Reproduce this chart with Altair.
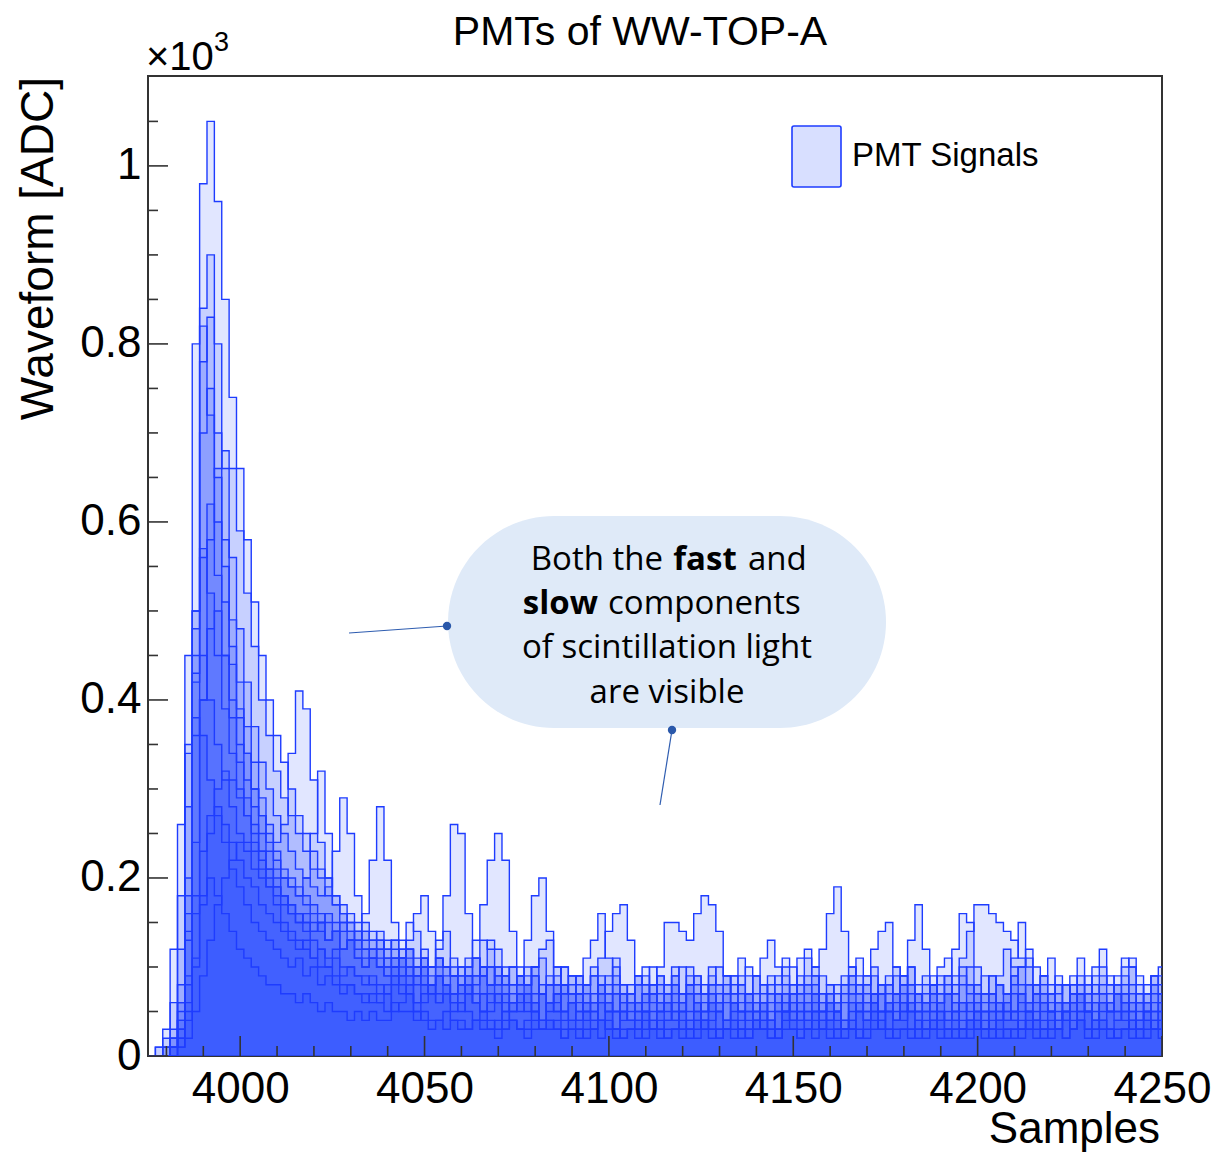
import altair as alt
import pandas as pd

# ---------------- data (values in units of 10^3 ADC, 2-sample bins from 3975) ----------------
X_START = 3975
BIN = 2

W1 = [0.00,0.00,0.01,0.02,0.06,0.18,0.50,0.98,1.05,0.96,
      0.85,0.74,0.66,0.58,0.51,0.45,0.40,0.36,0.33,0.30,
      0.27,0.25,0.23,0.21,0.20,0.18,0.17,0.16,0.15,0.14,
      0.13,0.14,0.12,0.13,0.11,0.12,0.10,0.11,0.10,0.13,
      0.18,0.26,0.25,0.16,0.11,0.09,0.10,0.08,0.09,0.10,
      0.08,0.10,0.09,0.07,0.08,0.10,0.08,0.07,0.09,0.08,
      0.06,0.08,0.07,0.09,0.07,0.06,0.08,0.09,0.07,0.05,
      0.07,0.08,0.06,0.09,0.07,0.05,0.08,0.06,0.07,0.09,
      0.06,0.07,0.05,0.08,0.06,0.07,0.09,0.06,0.05,0.07,
      0.08,0.06,0.07,0.05,0.08,0.09,0.11,0.09,0.06,0.07,
      0.05,0.07,0.08,0.06,0.07,0.05,0.08,0.06,0.07,0.05,
      0.06,0.08,0.07,0.05,0.07,0.06,0.05,0.08,0.10,0.11,
      0.08,0.06,0.07,0.05,0.06,0.08,0.07,0.05,0.06,0.07,
      0.05,0.07,0.06,0.08,0.06,0.07,0.09,0.10]

W2 = [0.00,0.00,0.00,0.01,0.04,0.14,0.42,0.84,0.90,0.80,
      0.66,0.56,0.48,0.42,0.37,0.33,0.30,0.27,0.25,0.23,
      0.21,0.20,0.19,0.18,0.19,0.23,0.29,0.25,0.18,0.15,
      0.14,0.13,0.12,0.13,0.11,0.12,0.10,0.11,0.10,0.11,
      0.10,0.09,0.10,0.11,0.09,0.10,0.08,0.09,0.10,0.08,
      0.09,0.08,0.10,0.07,0.09,0.08,0.10,0.09,0.07,0.08,
      0.09,0.11,0.14,0.16,0.17,0.13,0.09,0.08,0.07,0.09,
      0.08,0.10,0.07,0.08,0.09,0.07,0.10,0.08,0.09,0.07,
      0.08,0.06,0.09,0.08,0.07,0.09,0.11,0.10,0.07,0.08,
      0.09,0.07,0.06,0.08,0.09,0.07,0.08,0.06,0.09,0.08,
      0.07,0.09,0.08,0.10,0.07,0.06,0.08,0.09,0.07,0.08,
      0.10,0.08,0.06,0.07,0.09,0.08,0.07,0.09,0.08,0.06,
      0.08,0.09,0.07,0.08,0.06,0.09,0.08,0.07,0.09,0.10,
      0.07,0.08,0.09,0.07,0.06,0.08,0.09,0.07]

W3 = [0.00,0.00,0.00,0.01,0.05,0.16,0.45,0.78,0.83,0.70,
      0.58,0.49,0.42,0.37,0.33,0.29,0.26,0.24,0.26,0.34,
      0.41,0.39,0.31,0.24,0.20,0.17,0.16,0.15,0.14,0.13,
      0.12,0.13,0.11,0.12,0.10,0.11,0.09,0.10,0.08,0.09,
      0.08,0.09,0.08,0.10,0.13,0.17,0.22,0.25,0.22,0.14,
      0.10,0.08,0.09,0.07,0.08,0.06,0.08,0.07,0.05,0.07,
      0.06,0.08,0.07,0.05,0.06,0.08,0.06,0.07,0.05,0.06,
      0.07,0.05,0.06,0.08,0.06,0.05,0.07,0.06,0.04,0.06,
      0.07,0.05,0.06,0.04,0.07,0.06,0.05,0.07,0.06,0.04,
      0.06,0.05,0.07,0.06,0.04,0.06,0.05,0.07,0.06,0.05,
      0.06,0.04,0.05,0.07,0.05,0.06,0.08,0.10,0.11,0.07,
      0.05,0.06,0.04,0.06,0.07,0.05,0.06,0.04,0.06,0.05,
      0.07,0.05,0.06,0.04,0.06,0.07,0.05,0.06,0.04,0.06,
      0.05,0.07,0.05,0.06,0.04,0.06,0.05,0.06]

W4 = [0.00,0.00,0.01,0.03,0.12,0.45,0.80,0.82,0.72,0.60,
      0.51,0.44,0.38,0.34,0.30,0.27,0.25,0.23,0.21,0.20,
      0.19,0.18,0.17,0.16,0.15,0.15,0.14,0.14,0.13,0.16,
      0.22,0.28,0.22,0.15,0.13,0.12,0.11,0.12,0.10,0.11,
      0.10,0.11,0.09,0.10,0.11,0.09,0.10,0.09,0.08,0.10,
      0.09,0.08,0.10,0.11,0.08,0.09,0.10,0.07,0.09,0.08,
      0.10,0.08,0.09,0.11,0.08,0.07,0.09,0.10,0.08,0.09,
      0.07,0.09,0.10,0.08,0.09,0.07,0.08,0.10,0.09,0.07,
      0.08,0.10,0.09,0.07,0.09,0.08,0.10,0.08,0.07,0.09,
      0.10,0.12,0.16,0.19,0.14,0.10,0.08,0.09,0.07,0.08,
      0.09,0.07,0.08,0.10,0.08,0.09,0.07,0.08,0.09,0.07,
      0.08,0.10,0.08,0.07,0.09,0.08,0.07,0.09,0.10,0.12,
      0.10,0.08,0.07,0.09,0.08,0.07,0.08,0.09,0.07,0.08,
      0.09,0.07,0.08,0.10,0.09,0.07,0.08,0.09]

W5 = [0.00,0.00,0.00,0.02,0.06,0.20,0.48,0.70,0.75,0.65,
      0.55,0.46,0.39,0.34,0.30,0.27,0.24,0.22,0.20,0.19,
      0.18,0.20,0.25,0.32,0.25,0.18,0.15,0.14,0.13,0.12,
      0.11,0.12,0.10,0.11,0.09,0.10,0.08,0.09,0.08,0.07,
      0.08,0.06,0.07,0.08,0.06,0.07,0.05,0.07,0.06,0.05,
      0.07,0.05,0.06,0.04,0.06,0.07,0.05,0.04,0.06,0.05,
      0.04,0.06,0.05,0.03,0.05,0.06,0.04,0.05,0.03,0.05,
      0.06,0.04,0.05,0.03,0.04,0.06,0.05,0.03,0.04,0.05,
      0.04,0.06,0.03,0.05,0.04,0.03,0.05,0.06,0.04,0.05,
      0.03,0.04,0.06,0.05,0.03,0.04,0.05,0.04,0.06,0.04,
      0.05,0.06,0.09,0.13,0.17,0.12,0.07,0.05,0.04,0.05,
      0.03,0.04,0.06,0.05,0.03,0.04,0.05,0.04,0.03,0.05,
      0.04,0.03,0.05,0.06,0.04,0.03,0.05,0.08,0.10,0.12,
      0.08,0.05,0.04,0.03,0.05,0.04,0.03,0.05]

W6 = [0.00,0.00,0.00,0.00,0.02,0.06,0.18,0.40,0.58,0.66,
      0.68,0.66,0.59,0.52,0.46,0.40,0.36,0.32,0.29,0.27,
      0.25,0.23,0.21,0.20,0.18,0.17,0.16,0.15,0.14,0.14,
      0.13,0.12,0.13,0.11,0.11,0.13,0.16,0.18,0.14,0.11,
      0.10,0.09,0.10,0.09,0.08,0.10,0.08,0.10,0.09,0.07,
      0.08,0.09,0.07,0.08,0.06,0.08,0.07,0.09,0.08,0.06,
      0.07,0.09,0.06,0.08,0.07,0.05,0.08,0.07,0.06,0.08,
      0.06,0.08,0.07,0.05,0.07,0.08,0.06,0.07,0.08,0.09,
      0.11,0.09,0.07,0.06,0.08,0.07,0.05,0.07,0.08,0.06,
      0.07,0.05,0.08,0.07,0.06,0.08,0.07,0.05,0.07,0.08,
      0.06,0.07,0.05,0.08,0.07,0.06,0.08,0.07,0.09,0.12,
      0.16,0.15,0.10,0.07,0.06,0.08,0.07,0.05,0.07,0.06,
      0.08,0.07,0.05,0.07,0.08,0.06,0.07,0.05,0.08,0.07,
      0.06,0.08,0.07,0.05,0.07,0.06,0.08,0.07]

W7 = [0.00,0.00,0.00,0.01,0.04,0.13,0.36,0.56,0.62,0.54,
      0.45,0.38,0.33,0.29,0.26,0.23,0.21,0.19,0.18,0.16,
      0.15,0.14,0.13,0.12,0.11,0.12,0.10,0.10,0.09,0.09,
      0.08,0.07,0.08,0.09,0.07,0.08,0.06,0.07,0.08,0.06,
      0.07,0.06,0.05,0.07,0.06,0.05,0.06,0.07,0.05,0.06,
      0.09,0.13,0.18,0.20,0.14,0.08,0.05,0.06,0.04,0.05,
      0.06,0.04,0.05,0.03,0.05,0.04,0.03,0.05,0.04,0.03,
      0.04,0.05,0.03,0.04,0.05,0.03,0.04,0.05,0.03,0.04,
      0.03,0.05,0.04,0.03,0.04,0.02,0.05,0.04,0.03,0.04,
      0.05,0.03,0.04,0.05,0.03,0.04,0.02,0.04,0.05,0.03,
      0.08,0.10,0.09,0.05,0.04,0.03,0.04,0.05,0.03,0.04,
      0.03,0.04,0.05,0.03,0.04,0.05,0.07,0.11,0.15,0.10,
      0.05,0.04,0.03,0.04,0.05,0.03,0.04,0.03,0.05,0.04,
      0.03,0.04,0.05,0.03,0.04,0.05,0.03,0.04]

W8 = [0.00,0.00,0.01,0.02,0.08,0.28,0.50,0.57,0.52,0.45,
      0.39,0.34,0.30,0.27,0.24,0.22,0.20,0.19,0.18,0.17,
      0.16,0.15,0.14,0.15,0.13,0.14,0.12,0.13,0.11,0.10,
      0.11,0.10,0.09,0.10,0.11,0.09,0.10,0.08,0.07,0.09,
      0.08,0.07,0.08,0.09,0.07,0.10,0.13,0.12,0.08,0.06,
      0.07,0.08,0.06,0.07,0.05,0.07,0.08,0.06,0.09,0.11,
      0.13,0.16,0.11,0.07,0.06,0.07,0.05,0.06,0.08,0.06,
      0.05,0.07,0.06,0.04,0.06,0.05,0.07,0.06,0.04,0.06,
      0.05,0.07,0.05,0.06,0.04,0.06,0.07,0.05,0.08,0.11,
      0.10,0.07,0.05,0.06,0.04,0.07,0.06,0.05,0.07,0.05,
      0.06,0.04,0.07,0.06,0.05,0.07,0.05,0.06,0.07,0.04,
      0.06,0.05,0.07,0.05,0.06,0.04,0.06,0.07,0.05,0.06,
      0.07,0.09,0.11,0.08,0.06,0.05,0.07,0.06,0.04,0.06,
      0.05,0.07,0.06,0.04,0.06,0.05,0.07,0.06]

W9 = [0.00,0.00,0.00,0.01,0.03,0.09,0.24,0.40,0.48,0.50,
      0.45,0.40,0.35,0.31,0.28,0.25,0.23,0.21,0.20,0.19,
      0.18,0.17,0.16,0.15,0.16,0.14,0.15,0.13,0.14,0.12,
      0.12,0.11,0.10,0.11,0.12,0.15,0.14,0.10,0.08,0.09,
      0.08,0.07,0.09,0.08,0.06,0.07,0.08,0.06,0.07,0.05,
      0.06,0.07,0.05,0.04,0.06,0.07,0.05,0.06,0.04,0.06,
      0.05,0.04,0.06,0.05,0.04,0.06,0.05,0.07,0.08,0.10,
      0.15,0.15,0.14,0.13,0.16,0.18,0.17,0.14,0.09,0.06,
      0.05,0.04,0.06,0.05,0.03,0.05,0.06,0.04,0.05,0.03,
      0.05,0.06,0.04,0.05,0.03,0.06,0.05,0.04,0.06,0.05,
      0.03,0.05,0.04,0.06,0.05,0.03,0.05,0.06,0.04,0.05,
      0.06,0.04,0.05,0.03,0.05,0.06,0.04,0.05,0.03,0.05,
      0.04,0.06,0.05,0.03,0.05,0.06,0.04,0.05,0.03,0.05,
      0.06,0.08,0.11,0.10,0.07,0.05,0.04,0.05]

W10 = [0.00,0.01,0.02,0.06,0.18,0.34,0.43,0.45,0.40,0.35,
       0.31,0.28,0.25,0.23,0.21,0.20,0.19,0.18,0.17,0.16,
       0.15,0.16,0.14,0.15,0.13,0.14,0.12,0.13,0.12,0.11,
       0.12,0.10,0.11,0.10,0.12,0.10,0.09,0.11,0.09,0.10,
       0.09,0.10,0.08,0.09,0.11,0.09,0.08,0.10,0.09,0.08,
       0.09,0.08,0.10,0.12,0.13,0.10,0.08,0.09,0.07,0.08,
       0.09,0.07,0.08,0.10,0.08,0.07,0.09,0.08,0.10,0.07,
       0.08,0.09,0.07,0.10,0.08,0.07,0.09,0.08,0.06,0.08,
       0.09,0.07,0.09,0.11,0.13,0.10,0.08,0.07,0.09,0.08,
       0.07,0.09,0.08,0.06,0.08,0.09,0.07,0.08,0.10,0.07,
       0.08,0.07,0.09,0.08,0.06,0.08,0.09,0.07,0.08,0.06,
       0.09,0.07,0.08,0.09,0.07,0.09,0.12,0.10,0.07,0.08,
       0.07,0.09,0.08,0.06,0.08,0.07,0.09,0.08,0.07,0.09,
       0.08,0.09,0.10,0.11,0.08,0.07,0.09,0.08]

W11 = [0.00,0.01,0.03,0.12,0.26,0.35,0.38,0.36,0.31,0.27,
       0.24,0.21,0.19,0.17,0.15,0.14,0.13,0.12,0.11,0.10,
       0.11,0.09,0.10,0.08,0.09,0.08,0.07,0.08,0.07,0.06,
       0.07,0.06,0.07,0.05,0.06,0.07,0.05,0.06,0.08,0.12,
       0.14,0.09,0.06,0.05,0.04,0.05,0.04,0.03,0.05,0.04,
       0.03,0.04,0.05,0.03,0.04,0.03,0.02,0.04,0.03,0.04,
       0.03,0.02,0.04,0.03,0.02,0.03,0.04,0.02,0.03,0.04,
       0.02,0.03,0.04,0.03,0.02,0.04,0.03,0.02,0.03,0.04,
       0.03,0.02,0.04,0.03,0.02,0.03,0.04,0.03,0.02,0.03,
       0.04,0.03,0.02,0.03,0.04,0.03,0.06,0.08,0.12,0.14,
       0.15,0.10,0.06,0.03,0.04,0.02,0.03,0.04,0.03,0.02,
       0.03,0.04,0.03,0.02,0.03,0.04,0.02,0.03,0.04,0.03,
       0.02,0.03,0.04,0.03,0.02,0.03,0.04,0.02,0.03,0.04,
       0.03,0.02,0.03,0.04,0.02,0.03,0.04,0.03]

W12 = [0.00,0.00,0.00,0.00,0.01,0.04,0.10,0.18,0.25,0.30,
       0.32,0.31,0.29,0.27,0.25,0.23,0.21,0.20,0.18,0.17,
       0.16,0.15,0.15,0.14,0.13,0.14,0.12,0.13,0.11,0.10,
       0.11,0.10,0.09,0.10,0.09,0.08,0.09,0.10,0.08,0.09,
       0.08,0.07,0.08,0.07,0.09,0.13,0.12,0.08,0.07,0.06,
       0.07,0.06,0.05,0.07,0.06,0.05,0.07,0.08,0.05,0.06,
       0.05,0.07,0.06,0.05,0.07,0.04,0.06,0.05,0.07,0.06,
       0.04,0.06,0.05,0.07,0.06,0.04,0.06,0.05,0.07,0.06,
       0.05,0.07,0.04,0.06,0.05,0.07,0.06,0.04,0.06,0.05,
       0.07,0.05,0.06,0.04,0.07,0.10,0.09,0.06,0.07,0.05,
       0.06,0.04,0.06,0.05,0.07,0.06,0.04,0.06,0.07,0.09,
       0.11,0.14,0.17,0.17,0.16,0.15,0.14,0.13,0.11,0.08,
       0.06,0.07,0.05,0.06,0.04,0.06,0.07,0.05,0.06,0.04,
       0.06,0.05,0.07,0.06,0.04,0.06,0.05,0.07]

W13 = [0.00,0.00,0.00,0.00,0.01,0.02,0.05,0.09,0.13,0.17,
       0.20,0.22,0.24,0.24,0.23,0.21,0.19,0.17,0.15,0.14,
       0.13,0.12,0.11,0.10,0.10,0.09,0.08,0.08,0.07,0.07,
       0.06,0.06,0.05,0.06,0.05,0.05,0.04,0.05,0.04,0.04,
       0.05,0.04,0.04,0.03,0.04,0.04,0.03,0.04,0.03,0.04,
       0.03,0.03,0.04,0.03,0.03,0.04,0.03,0.03,0.02,0.03,
       0.03,0.04,0.03,0.03,0.02,0.03,0.03,0.04,0.03,0.02,
       0.03,0.03,0.02,0.03,0.04,0.03,0.02,0.03,0.03,0.02,
       0.03,0.02,0.03,0.04,0.03,0.02,0.03,0.03,0.02,0.03,
       0.02,0.03,0.04,0.03,0.02,0.03,0.03,0.02,0.03,0.04,
       0.03,0.02,0.03,0.03,0.02,0.03,0.04,0.03,0.02,0.03,
       0.03,0.02,0.03,0.04,0.03,0.02,0.03,0.03,0.02,0.03,
       0.04,0.03,0.02,0.03,0.05,0.08,0.11,0.07,0.04,0.03,
       0.02,0.03,0.03,0.02,0.03,0.04,0.03,0.02]

W14 = [0.00,0.00,0.00,0.01,0.02,0.05,0.11,0.17,0.20,0.18,
       0.16,0.14,0.12,0.11,0.10,0.09,0.08,0.08,0.07,0.07,
       0.06,0.07,0.06,0.05,0.06,0.05,0.05,0.04,0.05,0.04,
       0.05,0.04,0.04,0.08,0.11,0.09,0.05,0.04,0.03,0.04,
       0.03,0.04,0.03,0.03,0.04,0.03,0.03,0.02,0.03,0.04,
       0.03,0.02,0.03,0.03,0.04,0.03,0.02,0.03,0.03,0.02,
       0.03,0.04,0.03,0.02,0.03,0.03,0.02,0.03,0.04,0.03,
       0.02,0.03,0.03,0.02,0.03,0.04,0.03,0.02,0.03,0.03,
       0.02,0.03,0.04,0.03,0.02,0.03,0.05,0.08,0.11,0.12,
       0.09,0.05,0.03,0.02,0.03,0.03,0.02,0.03,0.04,0.03,
       0.02,0.03,0.03,0.02,0.03,0.04,0.03,0.02,0.03,0.03,
       0.02,0.03,0.04,0.03,0.02,0.03,0.03,0.02,0.03,0.04,
       0.03,0.02,0.03,0.03,0.02,0.03,0.04,0.03,0.02,0.03,
       0.03,0.02,0.03,0.04,0.03,0.02,0.03,0.03]

W15 = [0.00,0.00,0.00,0.01,0.03,0.08,0.16,0.23,0.27,0.28,
       0.26,0.24,0.22,0.20,0.19,0.17,0.16,0.15,0.14,0.13,
       0.12,0.13,0.11,0.12,0.10,0.11,0.09,0.10,0.09,0.08,
       0.09,0.08,0.07,0.09,0.08,0.07,0.06,0.08,0.07,0.06,
       0.07,0.05,0.06,0.08,0.06,0.05,0.07,0.06,0.04,0.06,
       0.05,0.07,0.06,0.04,0.06,0.05,0.04,0.06,0.07,0.05,
       0.04,0.06,0.05,0.07,0.05,0.04,0.06,0.05,0.03,0.05,
       0.06,0.04,0.05,0.07,0.05,0.04,0.06,0.05,0.04,0.06,
       0.05,0.03,0.05,0.06,0.04,0.05,0.07,0.05,0.04,0.06,
       0.05,0.04,0.06,0.05,0.03,0.05,0.06,0.04,0.05,0.07,
       0.05,0.04,0.06,0.05,0.03,0.05,0.06,0.04,0.05,0.06,
       0.04,0.06,0.05,0.03,0.05,0.06,0.04,0.05,0.07,0.05,
       0.04,0.06,0.05,0.03,0.05,0.04,0.06,0.05,0.04,0.06,
       0.05,0.04,0.06,0.05,0.03,0.05,0.06,0.04]

waveforms = [W1, W2, W3, W4, W5, W6, W7, W8, W9, W10, W11, W12, W13, W14, W15]

y_major = [0, 0.2, 0.4, 0.6, 0.8, 1.0]
y_minor = [0.05, 0.1, 0.15, 0.25, 0.3, 0.35, 0.45, 0.5, 0.55, 0.65, 0.7, 0.75,
           0.85, 0.9, 0.95, 1.05]
x_major = [4000, 4050, 4100, 4150, 4200, 4250]
x_minor = [3980, 3990, 4010, 4020, 4030, 4040, 4060, 4070, 4080, 4090, 4110, 4120,
           4130, 4140, 4160, 4170, 4180, 4190, 4210, 4220, 4230, 4240]

# ---------------- build long table ----------------
rows = []
for k, w in enumerate(waveforms):
    for i, v in enumerate(w):
        rows.append({"pmt": k, "x": X_START + BIN * i, "y": v})
    rows.append({"pmt": k, "x": X_START + BIN * len(w), "y": w[-1]})
df = pd.DataFrame(rows)

W, H = 1014, 980
FILL = "#284bff"
LINE = "#1e3cff"
FONT = "Liberation Sans"

xscale = alt.Scale(domain=[3975, 4250], nice=False, zero=False)
yscale = alt.Scale(domain=[0, 1.101], nice=False)

xaxis = alt.Axis(values=x_major, format="d", ticks=False, domain=False, grid=False, title=None,
                 labelFont=FONT, labelFontSize=44, labelColor="black", labelPadding=11,
                 labelFlush=False, labelOverlap=False, labelBound=False)
yaxis = alt.Axis(values=y_major, format=".1~f", ticks=False, domain=False, grid=False,
                 title=None, labelFont=FONT, labelFontSize=44, labelColor="black",
                 labelPadding=7, labelOverlap=False, labelBound=False)

base = alt.Chart(df)
areas = base.mark_area(interpolate="step-after", clip=True, fill=FILL, fillOpacity=0.14).encode(
    x=alt.X("x:Q", scale=xscale, axis=xaxis),
    y=alt.Y("y:Q", scale=yscale, axis=yaxis, stack=None),
    detail="pmt:N",
)
lines = base.mark_line(interpolate="step-after", clip=True, color=LINE, strokeWidth=1.4).encode(
    x=alt.X("x:Q", scale=xscale, axis=xaxis),
    y=alt.Y("y:Q", scale=yscale, axis=yaxis),
    detail="pmt:N",
)

TICK = "#333333"
ymaj = alt.Chart(pd.DataFrame({"y": y_major})).mark_rule(color=TICK, strokeWidth=1.6).encode(
    y=alt.Y("y:Q", scale=yscale, axis=yaxis), x=alt.value(0), x2=alt.value(20))
ymin = alt.Chart(pd.DataFrame({"y": y_minor})).mark_rule(color=TICK, strokeWidth=1.6).encode(
    y=alt.Y("y:Q", scale=yscale, axis=yaxis), x=alt.value(0), x2=alt.value(10))
xmaj = alt.Chart(pd.DataFrame({"x": x_major})).mark_rule(color=TICK, strokeWidth=1.6).encode(
    x=alt.X("x:Q", scale=xscale, axis=xaxis), y=alt.value(H), y2=alt.value(H - 20))
xmin = alt.Chart(pd.DataFrame({"x": x_minor})).mark_rule(color=TICK, strokeWidth=1.6).encode(
    x=alt.X("x:Q", scale=xscale, axis=xaxis), y=alt.value(H), y2=alt.value(H - 10))

one = pd.DataFrame({"a": [0]})


def txt(s, x, y, size, font=FONT, align="left", weight="normal", angle=0, baseline="alphabetic"):
    kw = dict(text=s, font=font, fontSize=size, align=align, fontWeight=weight,
              baseline=baseline, color="black")
    if angle:
        kw["angle"] = angle
    return alt.Chart(one).mark_text(**kw).encode(x=alt.value(x), y=alt.value(y))


# titles
title = txt("PMTs of WW-TOP-A", 492, -31, 41, align="center")
ytitle = txt("Waveform [ADC]", -95, 1, 46, align="right", angle=270)
xtitle = txt("Samples", 1012, 1067, 44, align="right")
expo = txt("\u00d710", -2, -6, 40)
expo3 = txt("3", 66, -25, 27)

# legend
leg_box = alt.Chart(one).mark_rect(fill=FILL, fillOpacity=0.18, stroke=LINE, strokeWidth=1.6,
                                   cornerRadius=2).encode(
    x=alt.value(644), x2=alt.value(693), y=alt.value(50), y2=alt.value(111))
leg_txt = txt("PMT Signals", 704, 90, 33)

# annotation bubble
bubble = alt.Chart(one).mark_rect(fill="#dfeaf8", cornerRadius=106).encode(
    x=alt.value(300), x2=alt.value(738), y=alt.value(440), y2=alt.value(652))
AF = "Open Sans"
a1 = txt("Both the", 515, 494, 33, font=AF, align="right")
a2 = txt("fast", 557, 494, 33, font=AF, align="center", weight="bold")
a3 = txt("and", 600, 494, 33, font=AF, align="left")
a4 = txt("slow", 450, 538, 33, font=AF, align="right", weight="bold")
a5 = txt("components", 460, 538, 33, font=AF, align="left")
a6 = txt("of scintillation light", 519, 582, 33, font=AF, align="center")
a7 = txt("are visible", 519, 627, 33, font=AF, align="center")

PTR = "#2f5db0"
p1 = alt.Chart(one).mark_rule(color=PTR, strokeWidth=1.2).encode(
    x=alt.value(201), x2=alt.value(299), y=alt.value(557), y2=alt.value(550))
p2 = alt.Chart(one).mark_rule(color=PTR, strokeWidth=1.2).encode(
    x=alt.value(524), x2=alt.value(512), y=alt.value(654), y2=alt.value(729))
d1 = alt.Chart(one).mark_point(filled=True, size=70, color="#2a58aa", opacity=1).encode(
    x=alt.value(299), y=alt.value(550))
d2 = alt.Chart(one).mark_point(filled=True, size=70, color="#2a58aa", opacity=1).encode(
    x=alt.value(524), y=alt.value(654))

chart = alt.layer(
    areas, lines, ymaj, ymin, xmaj, xmin,
    title, ytitle, xtitle, expo, expo3,
    leg_box, leg_txt,
    bubble, a1, a2, a3, a4, a5, a6, a7, p1, p2, d1, d2,
).properties(
    width=W, height=H,
    autosize=alt.AutoSizeParams(type="none"),
    padding={"left": 148, "top": 76, "right": 52, "bottom": 97},
    background="white",
).configure_view(stroke="#333333", strokeWidth=2)

chart.save("out.html", embed_options={"renderer": "svg", "actions": False})
